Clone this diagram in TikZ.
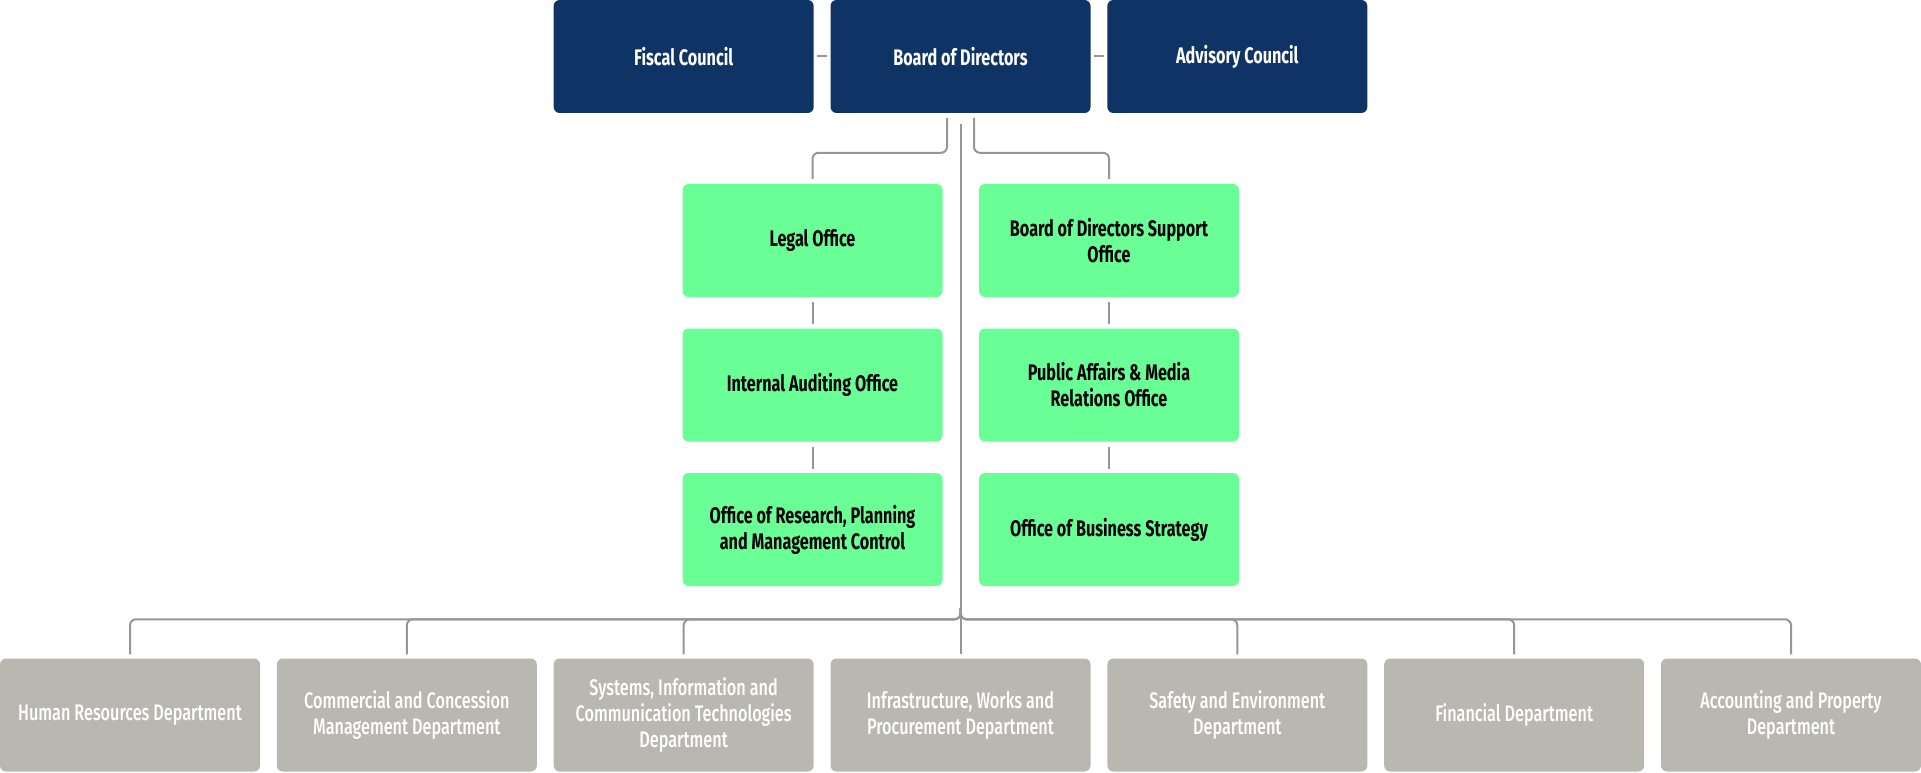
\documentclass[tikz,border=0pt]{standalone}
\usepackage{fontspec}
\setmainfont{Fira Sans}[FakeStretch=0.72]
\newfontfamily\deptfont{Fira Sans}[FakeStretch=0.72, UprightFont=* Medium]
\usetikzlibrary{calc}
\definecolor{navy}{HTML}{103366}
\definecolor{mint}{HTML}{69FF96}
\definecolor{stone}{HTML}{B9B8B0}
\definecolor{linegray}{HTML}{969696}
\tikzset{
  box/.style={rectangle, rounded corners=6pt, minimum width=260pt, minimum height=113pt,
    inner sep=0pt, align=center},
  topbox/.style={box, fill=navy, text=white, font=\fontsize{22.5}{26}\selectfont\bfseries},
  officebox/.style={box, fill=mint, text=black, font=\fontsize{22.5}{26}\selectfont\bfseries},
  deptbox/.style={box, fill=stone, text=white, font=\fontsize{22.5}{26}\selectfont\deptfont},
  conn/.style={draw=linegray, line width=2pt, rounded corners=6pt}
}
\begin{document}
\begin{tikzpicture}[x=1pt,y=-1pt]
\useasboundingbox (0,0) rectangle (1921,773);
% top row
\node[topbox] (fiscal) at (683.66,56.5) {Fiscal Council};
\node[topbox] (board) at (960.5,56.5) {Board of Directors};
\node[topbox] (advisory) at (1237.33,56.5) {Advisory Council};
% offices
\node[officebox] (legal) at (812.5,240.5) {Legal Office};
\node[officebox] (audit) at (812.5,385) {Internal Auditing Office};
\node[officebox] (research) at (812.5,529.5) {Office of Research, Planning\\and Management Control};
\node[officebox] (support) at (1109,240.5) {Board of Directors Support\\Office};
\node[officebox] (media) at (1109,385) {Public Affairs \& Media\\Relations Office};
\node[officebox] (strategy) at (1109,529.5) {Office of Business Strategy};
% departments
\node[deptbox] (hr) at (130,715) {Human Resources Department};
\node[deptbox] (commercial) at (406.83,715) {Commercial and Concession\\Management Department};
\node[deptbox] (systems) at (683.66,715) {Systems, Information and\\Communication Technologies\\Department};
\node[deptbox] (infra) at (960.5,715) {Infrastructure, Works and\\Procurement Department};
\node[deptbox] (safety) at (1237.33,715) {Safety and Environment\\Department};
\node[deptbox] (financial) at (1514.16,715) {Financial Department};
\node[deptbox] (accounting) at (1791,715) {Accounting and Property\\Department};
% coordinates
\coordinate (legalsrc) at (947,118);
\coordinate (supportsrc) at (974,118);
\coordinate (trunk) at (960.5,124);
\coordinate (junction) at (960.5,608);
% connectors
\draw[conn, shorten <=3.5pt, shorten >=3.5pt] (fiscal.east) -- (board.west);
\draw[conn, shorten <=3.5pt, shorten >=3.5pt] (board.east) -- (advisory.west);
\draw[conn] (legalsrc) |- ($(legal.north)+(0,-31)$) -- ($(legal.north)+(0,-5)$);
\draw[conn] (supportsrc) |- ($(support.north)+(0,-31)$) -- ($(support.north)+(0,-5)$);
\draw[conn, shorten <=5pt, shorten >=4pt] (legal) -- (audit);
\draw[conn, shorten <=5pt, shorten >=4pt] (audit) -- (research);
\draw[conn, shorten <=5pt, shorten >=4pt] (support) -- (media);
\draw[conn, shorten <=5pt, shorten >=4pt] (media) -- (strategy);
\draw[conn] (trunk) -- (junction);
\foreach \d in {hr,commercial,systems,safety,financial,accounting}{
  \draw[conn] (junction) |- ($(\d.north)+(0,-39)$) -- ($(\d.north)+(0,-4)$);
}
\draw[conn] (junction) -- ($(infra.north)+(0,-4)$);
\end{tikzpicture}
\end{document}
